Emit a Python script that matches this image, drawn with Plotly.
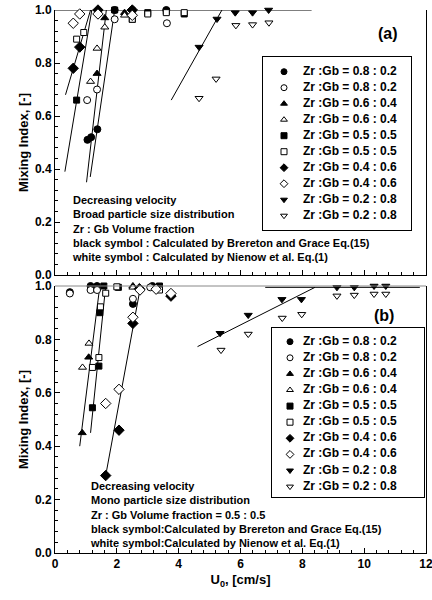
import plotly.graph_objects as go

FONT = "Liberation Sans, Arial, sans-serif"

# ---------------- Panel (a): broad particle size distribution ----------------
a_fc_x = [1.05, 1.17, 1.37, 1.93, 2.50, 3.60]
a_fc_y = [0.51, 0.52, 0.55, 1.00, 1.00, 1.00]
a_oc_x = [1.04, 1.36, 1.93, 2.50, 3.62]
a_oc_y = [0.66, 0.70, 0.965, 0.98, 0.95]
a_ft_x = [1.36, 1.61, 2.25]
a_ft_y = [0.76, 0.97, 0.99]
a_ot_x = [1.15, 1.36, 1.61, 2.25]
a_ot_y = [0.73, 0.855, 0.935, 0.98]
a_fs_x = [0.70, 1.93, 2.50, 3.00, 3.60, 4.18]
a_fs_y = [0.66, 1.00, 0.965, 0.99, 0.995, 0.985]
a_os_x = [0.70, 0.93, 2.50, 3.00, 3.60, 4.18]
a_os_y = [0.89, 0.915, 0.965, 0.985, 0.99, 0.99]
a_fd_x = [0.59, 0.80, 1.39, 2.50]
a_fd_y = [0.78, 0.86, 1.00, 1.00]
a_od_x = [0.59, 0.80, 1.39, 2.50]
a_od_y = [0.95, 0.985, 0.985, 0.98]
a_fv_x = [4.66, 5.24, 5.83, 6.39, 6.91]
a_fv_y = [0.86, 0.966, 0.99, 0.99, 1.00]
a_ov_x = [4.66, 5.21, 5.85, 6.39, 6.92]
a_ov_y = [0.667, 0.74, 0.942, 0.945, 0.952]

# fit lines (a)
a_lines = [
    ([0.34, 1.15], [0.68, 1.00]),
    ([0.32, 1.19], [0.39, 1.00]),
    ([1.02, 1.66], [0.35, 1.00]),
    ([1.14, 1.93], [0.37, 1.00]),
    ([3.76, 5.40], [0.66, 1.00]),
    ([0.00, 8.30], [1.00, 1.00]),
]

# ---------------- Panel (b): mono particle size distribution ----------------
b_fc_x = [0.48, 1.15, 1.36, 2.52, 3.15]
b_fc_y = [0.977, 1.00, 1.00, 0.933, 1.00]
b_oc_x = [0.48, 1.15, 1.36, 2.52, 3.08]
b_oc_y = [0.972, 0.985, 0.985, 0.952, 0.995]
b_ft_x = [0.88, 1.09, 2.52]
b_ft_y = [0.45, 0.733, 1.00]
b_ot_x = [0.89, 1.10, 2.52]
b_ot_y = [0.695, 0.785, 0.995]
b_fs_x = [1.21, 1.42, 1.45, 1.58, 2.05, 3.38]
b_fs_y = [0.544, 0.70, 0.90, 1.00, 0.995, 1.00]
b_os_x = [1.21, 1.42, 1.47, 1.64, 2.00, 3.38]
b_os_y = [0.695, 0.732, 0.922, 0.973, 0.997, 0.985]
b_fd_x = [1.64, 2.07, 2.52, 2.73, 3.75]
b_fd_y = [0.29, 0.46, 0.86, 0.99, 0.962]
b_od_x = [1.64, 2.07, 2.52, 2.75, 3.27, 3.75]
b_od_y = [0.56, 0.613, 0.883, 0.985, 0.988, 0.972]
b_fv_x = [5.34, 6.25, 7.34, 7.97, 9.12, 9.68, 10.32, 10.70]
b_fv_y = [0.823, 0.891, 0.95, 0.95, 0.995, 0.995, 1.00, 1.00]
b_ov_x = [5.37, 6.25, 7.35, 7.98, 9.12, 9.68, 10.32, 10.70]
b_ov_y = [0.76, 0.82, 0.88, 0.894, 0.963, 0.966, 0.97, 0.97]

b_lines = [
    ([0.80, 1.45], [0.40, 1.00]),
    ([1.15, 1.64], [0.45, 1.00]),
    ([1.64, 2.77], [0.29, 1.00]),
    ([4.61, 8.41], [0.773, 0.995]),
    ([6.80, 11.80], [0.995, 0.995]),
]

labels = ["Zr :Gb = 0.8 : 0.2", "Zr :Gb = 0.8 : 0.2",
          "Zr :Gb = 0.6 : 0.4", "Zr :Gb = 0.6 : 0.4",
          "Zr :Gb = 0.5 : 0.5", "Zr :Gb = 0.5 : 0.5",
          "Zr :Gb = 0.4 : 0.6", "Zr :Gb = 0.4 : 0.6",
          "Zr :Gb = 0.2 : 0.8", "Zr :Gb = 0.2 : 0.8"]
symbols = ["circle", "circle", "triangle-up", "triangle-up", "square", "square",
           "diamond", "diamond", "triangle-down", "triangle-down"]
filled = [True, False] * 5
sizes = [7, 7, 7, 7, 6, 6, 8, 8, 7, 7]

a_data = [(a_fc_x, a_fc_y), (a_oc_x, a_oc_y), (a_ft_x, a_ft_y), (a_ot_x, a_ot_y),
          (a_fs_x, a_fs_y), (a_os_x, a_os_y), (a_fd_x, a_fd_y), (a_od_x, a_od_y),
          (a_fv_x, a_fv_y), (a_ov_x, a_ov_y)]
b_data = [(b_fc_x, b_fc_y), (b_oc_x, b_oc_y), (b_ft_x, b_ft_y), (b_ot_x, b_ot_y),
          (b_fs_x, b_fs_y), (b_os_x, b_os_y), (b_fd_x, b_fd_y), (b_od_x, b_od_y),
          (b_fv_x, b_fv_y), (b_ov_x, b_ov_y)]

# ---------------- layout geometry (pixels) ----------------
W, H = 432, 600
ML, MR, MT, MB = 55, 6, 10, 47
PW, PH = W - ML - MR, H - MT - MB
A_Y0PX, B_Y1PX = 275, 286        # pixel rows of y=0 (panel a) and y=1 (panel b)


def px_to_xpaper(px):
    return (px - ML) / PW


def py_to_ypaper(py):
    return (H - MB - py) / PH


fig = go.Figure()

for lx, ly in a_lines:
    fig.add_trace(go.Scatter(x=lx, y=ly, mode="lines", line=dict(color="black", width=1),
                             showlegend=False, xaxis="x", yaxis="y", hoverinfo="skip",
                             cliponaxis=False))
for lx, ly in b_lines:
    fig.add_trace(go.Scatter(x=lx, y=ly, mode="lines", line=dict(color="black", width=1),
                             showlegend=False, xaxis="x2", yaxis="y2", hoverinfo="skip",
                             cliponaxis=False))

for data, xa, ya in [(a_data, "x", "y"), (b_data, "x2", "y2")]:
    for i, (xs, ys) in enumerate(data):
        fig.add_trace(go.Scatter(
            x=xs, y=ys, mode="markers", name=labels[i], showlegend=False,
            marker=dict(symbol=symbols[i], size=sizes[i],
                        color="black" if filled[i] else "white",
                        line=dict(color="black", width=1)),
            xaxis=xa, yaxis=ya, cliponaxis=False))

# ---------------- legend boxes drawn as small key subplots ----------------
legfont = dict(family=FONT, size=12, color="black", weight="bold")
legend_specs = [
    # axis suffix, box px (left, right, top, bottom), first row py, row step, symbol x, text x
    ("3", (263, 411, 57, 230), 71.7, 16.0, 21, 40),
    ("4", (272, 424, 328, 497), 341.7, 16.1, 18, 31),
]
row_index = list(range(len(labels)))
legend_layout = {}
for suf, (l, r, t, b), r0, step, sx, tx in legend_specs:
    xa, ya = "x" + suf, "y" + suf
    for i in row_index:
        fig.add_trace(go.Scatter(
            x=[sx], y=[i], mode="markers", showlegend=False, hoverinfo="skip",
            marker=dict(symbol=symbols[i], size=6,
                        color="black" if filled[i] else "white",
                        line=dict(color="black", width=1)),
            xaxis=xa, yaxis=ya, cliponaxis=False))
    fig.add_trace(go.Scatter(
        x=[tx] * len(labels), y=row_index, mode="text", text=labels,
        textposition="middle right", textfont=legfont, showlegend=False,
        hoverinfo="skip", xaxis=xa, yaxis=ya, cliponaxis=False))
    common = dict(showline=True, mirror=True, linecolor="black", linewidth=1,
                  ticks="", showticklabels=False, showgrid=False, zeroline=False,
                  fixedrange=True, automargin=False)
    legend_layout["xaxis" + suf] = dict(domain=[px_to_xpaper(l), px_to_xpaper(r)],
                                        range=[0, r - l], anchor=ya, **common)
    legend_layout["yaxis" + suf] = dict(domain=[py_to_ypaper(b), py_to_ypaper(t)],
                                        range=[(b - r0) / step, (t - r0) / step],
                                        anchor=xa, **common)

tickfont = dict(family=FONT, size=12, color="black", weight="bold")
titlefont = dict(family=FONT, size=13, color="black", weight="bold")


def xax(domain_anchor, show_labels, title=None):
    d = dict(range=[0, 12], domain=[0, 1], anchor=domain_anchor, automargin=False,
             showline=True, linecolor="black", linewidth=1, mirror=False,
             ticks="inside", ticklen=5, tickwidth=1, tickcolor="black",
             tickvals=[0, 2, 4, 6, 8, 10, 12], showticklabels=show_labels,
             ticklabeloverflow="allow",
             tickfont=tickfont, showgrid=False, zeroline=False,
             minor=dict(ticks="inside", ticklen=3, dtick=0.4, tick0=0, tickcolor="black"))
    if title:
        d["title"] = dict(text=title, font=titlefont, standoff=4)
    return d


def yax(domain, anchor):
    return dict(range=[0, 1], domain=domain, anchor=anchor, automargin=False,
                showline=True, linecolor="black", linewidth=1, mirror=True,
                ticks="inside", ticklen=5, tickwidth=1, tickcolor="black",
                tickvals=[0, 0.2, 0.4, 0.6, 0.8, 1.0], tickformat=".1f",
                ticklabeloverflow="allow",
                tickfont=tickfont, showgrid=False, zeroline=False,
                minor=dict(ticks="inside", ticklen=3, dtick=0.04, tick0=0, tickcolor="black"),
                title=dict(text="Mixing Index, [-]", font=titlefont, standoff=3))


textfont = dict(family=FONT, size=11, color="black", weight="bold")

fig.update_layout(
    width=W, height=H,
    margin=dict(l=ML, r=MR, t=MT, b=MB, autoexpand=False),
    paper_bgcolor="white", plot_bgcolor="white",
    font=dict(family=FONT, color="black"),
    xaxis=xax("y", False),
    yaxis=yax([py_to_ypaper(A_Y0PX), 1.0], "x"),
    xaxis2=xax("y2", True, "U<sub>0</sub>, [cm/s]"),
    yaxis2=yax([0.0, py_to_ypaper(B_Y1PX)], "x2"),
    showlegend=False,
    **legend_layout,
)

fig.add_shape(type="line", xref="x2 domain", yref="y2 domain", x0=0, x1=1, y0=1, y1=1,
              line=dict(color="#888888", width=1))

fig.add_annotation(xref="x", yref="y", x=0.49, y=0.313, xanchor="left", yanchor="top",
                   align="left", showarrow=False, font=textfont,
                   text="Decreasing velocity<br>Broad particle size distribution<br>"
                        "Zr : Gb Volume fraction<br>"
                        "black symbol : Calculated by Brereton and Grace Eq.(15)<br>"
                        "white symbol : Calculated by Nienow et al. Eq.(1)")
fig.add_annotation(xref="x2", yref="y2", x=1.07, y=0.281, xanchor="left", yanchor="top",
                   align="left", showarrow=False, font=textfont,
                   text="Decreasing velocity<br>Mono particle size distribution<br>"
                        "Zr : Gb Volume fraction = 0.5 : 0.5<br>"
                        "black symbol:Calculated by Brereton and Grace Eq.(15)<br>"
                        "white symbol:Calculated by Nienow et al. Eq.(1)")
fig.add_annotation(xref="x", yref="y", x=10.78, y=0.913, showarrow=False,
                   text="(a)", font=dict(family=FONT, size=16, color="black", weight="bold"))
fig.add_annotation(xref="x2", yref="y2", x=10.65, y=0.891, showarrow=False,
                   text="(b)", font=dict(family=FONT, size=16, color="black", weight="bold"))

fig.write_html("out.html", config={"displayModeBar": False},
               post_script="document.body.style.margin='0px';document.body.style.overflow='hidden';")
